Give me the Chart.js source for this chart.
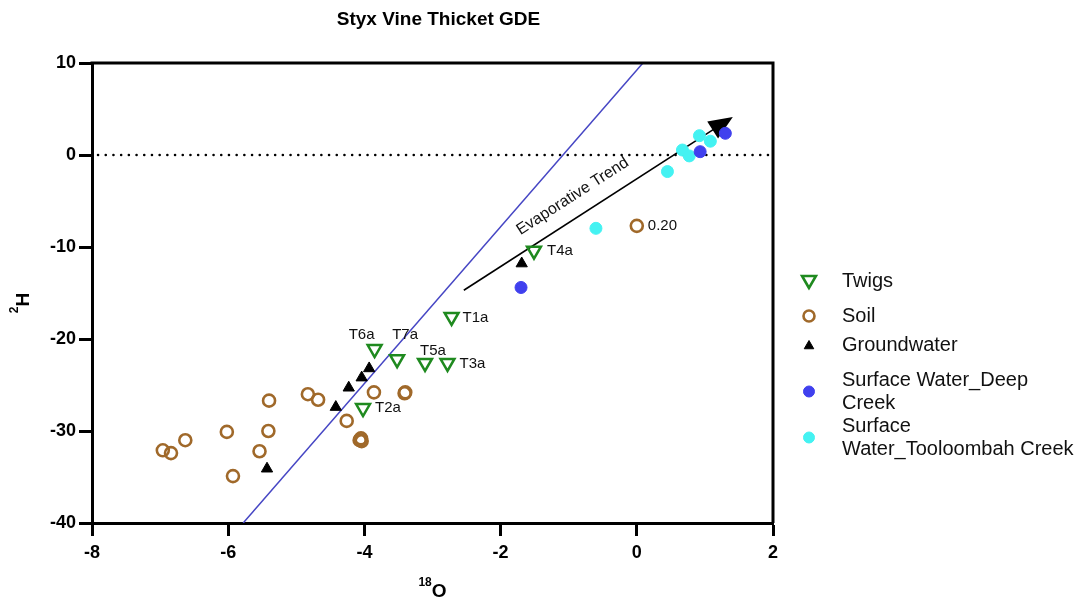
<!DOCTYPE html>
<html>
<head>
<meta charset="utf-8">
<title>Styx Vine Thicket GDE</title>
<script src="https://cdn.jsdelivr.net/npm/chart.js@4.4.1/dist/chart.umd.min.js"></script>
<style>
  html, body { margin: 0; padding: 0; background: #fff; }
  canvas { display: block; }
</style>
</head>
<body>
<canvas id="chart" width="1081" height="601"></canvas>
<script>
// isotope samples: x = 18O, y = 2H
const twigsX = [-2.72, -4.02, -2.78, -1.51, -3.11, -3.85, -3.52];
const twigsY = [-17.6, -27.5, -22.6, -10.4, -22.6, -21.1, -22.2];
const twigLabels = ["T1a", "T2a", "T3a", "T4a", "T5a", "T6a", "T7a"];

const soilX = [-6.96, -6.84, -6.63, -6.02, -5.93, -5.54, -5.41, -5.40, -4.83, -4.68, -4.26, -4.07, -4.05, -4.04, -3.86, -3.41, -3.40, 0.00];
const soilY = [-32.1, -32.4, -31.0, -30.1, -34.9, -32.2, -30.0, -26.7, -26.0, -26.6, -28.9, -31.0, -30.8, -31.1, -25.8, -25.9, -25.8, -7.7];
const soilLabels = ["", "", "", "", "", "", "", "", "", "", "", "", "", "", "", "", "", "0.20"];

const groundwaterX = [-5.43, -4.42, -4.23, -4.04, -3.93, -1.69];
const groundwaterY = [-34.1, -27.4, -25.3, -24.2, -23.2, -11.8];

const deepCreekX = [-1.70, 0.93, 1.30];
const deepCreekY = [-14.4, 0.36, 2.36];

const tooloombahX = [-0.60, 0.45, 0.67, 0.77, 0.92, 1.08];
const tooloombahY = [-7.97, -1.8, 0.54, -0.1, 2.1, 1.5];

const xTicks = [-8, -6, -4, -2, 0, 2];
const yTicks = [-40, -30, -20, -10, 0, 10];

// meteoric water line and evaporative trend arrow (start, tip)
const mwlX = [-5.78, 0.09];
const mwlY = [-40, 10];
const trendX = [-2.54, 1.41];
const trendY = [-14.7, 4.13];
const zeroLineX = [-8, 2];
const zeroLineY = [0, 0];

const pts = (xs, ys) => xs.map((x, i) => ({ x: x, y: ys[i] }));

const FONT = "'Liberation Sans', Arial, sans-serif";
const GREEN = "#1f8a1f";
const BROWN = "#a0692a";
const BLUE = "#4040ee";
const CYAN = "#44f2f2";

// label placement relative to the point: [dx, dy, align]
const labelPos = {
  T1a: [11, 1, "left"], T2a: [12, 0, "left"], T3a: [12, 1, "left"],
  T4a: [13, 0, "left"], T5a: [8, -12, "center"], T6a: [-13, -14, "center"],
  T7a: [8, -24, "center"], "0.20": [11, 0, "left"]
};

const legendItems = [
  { lines: ["Twigs"], style: "triangle", rot: 180, fill: "rgba(0,0,0,0)", stroke: GREEN, r: 8, bw: 2.6 },
  { lines: ["Soil"], style: "circle", fill: "rgba(0,0,0,0)", stroke: BROWN, r: 5.5, bw: 2.6 },
  { lines: ["Groundwater"], style: "triangle", rot: 0, fill: "#000", stroke: "#000", r: 5.5, bw: 1 },
  { lines: ["Surface Water_Deep", "Creek"], style: "circle", fill: BLUE, stroke: BLUE, r: 5.5, bw: 1 },
  { lines: ["Surface", "Water_Tooloombah Creek"], style: "circle", fill: CYAN, stroke: CYAN, r: 5.5, bw: 1 }
];

const decor = {
  id: "decor",
  beforeDatasetsDraw(chart) {
    const { ctx, scales: { x, y } } = chart;
    ctx.save();
    // dotted zero line
    ctx.strokeStyle = "#000";
    ctx.lineWidth = 2.5;
    ctx.lineCap = "round";
    ctx.setLineDash([0.1, 7.6]);
    ctx.beginPath();
    ctx.moveTo(x.getPixelForValue(zeroLineX[0]) + 6, y.getPixelForValue(zeroLineY[0]));
    ctx.lineTo(x.getPixelForValue(zeroLineX[1]), y.getPixelForValue(zeroLineY[1]));
    ctx.stroke();
    ctx.setLineDash([]);

    // evaporative trend arrow
    const x0 = x.getPixelForValue(trendX[0]), y0 = y.getPixelForValue(trendY[0]);
    const x1 = x.getPixelForValue(trendX[1]), y1 = y.getPixelForValue(trendY[1]);
    const ang = Math.atan2(y1 - y0, x1 - x0);
    const headLen = 24, headHalf = 10;
    ctx.lineCap = "butt";
    ctx.lineWidth = 1.6;
    ctx.beginPath();
    ctx.moveTo(x0, y0);
    ctx.lineTo(x1 - Math.cos(ang) * headLen * 0.8, y1 - Math.sin(ang) * headLen * 0.8);
    ctx.stroke();
    ctx.fillStyle = "#000";
    ctx.beginPath();
    ctx.moveTo(x1, y1);
    const bx = x1 - Math.cos(ang) * headLen, by = y1 - Math.sin(ang) * headLen;
    ctx.lineTo(bx + Math.sin(ang) * headHalf, by - Math.cos(ang) * headHalf);
    ctx.lineTo(bx - Math.sin(ang) * headHalf, by + Math.cos(ang) * headHalf);
    ctx.closePath();
    ctx.fill();

    // caption along the arrow
    const t = 0.445;
    const cx = x0 + (x1 - x0) * t + Math.sin(ang) * 20;
    const cy = y0 + (y1 - y0) * t - Math.cos(ang) * 20;
    ctx.translate(cx, cy);
    ctx.rotate(ang);
    ctx.font = "16px " + FONT;
    ctx.fillStyle = "#111";
    ctx.textAlign = "center";
    ctx.textBaseline = "middle";
    ctx.fillText("Evaporative Trend", 0, 0);
    ctx.restore();
  },
  afterDraw(chart) {
    const { ctx, chartArea: a, scales: { x, y } } = chart;
    ctx.save();
    // top and right frame
    ctx.strokeStyle = "#000";
    ctx.lineWidth = 3;
    ctx.beginPath();
    ctx.moveTo(a.left - 1.5, a.top);
    ctx.lineTo(a.right, a.top);
    ctx.lineTo(a.right, a.bottom);
    ctx.stroke();

    // point labels
    ctx.font = "15px " + FONT;
    ctx.fillStyle = "#111";
    ctx.textBaseline = "middle";
    const drawLabels = (xs, ys, labels) => labels.forEach((lab, i) => {
      if (!lab) return;
      const p = labelPos[lab];
      ctx.textAlign = p[2];
      ctx.fillText(lab, x.getPixelForValue(xs[i]) + p[0], y.getPixelForValue(ys[i]) + p[1]);
    });
    drawLabels(twigsX, twigsY, twigLabels);
    drawLabels(soilX, soilY, soilLabels);

    // title
    const midX = (a.left + a.right) / 2;
    ctx.font = "bold 19px " + FONT;
    ctx.fillStyle = "#000";
    ctx.textAlign = "center";
    ctx.fillText("Styx Vine Thicket GDE", midX + 6, 20);

    // x axis title with superscript
    const big = "bold 19px " + FONT, small = "bold 12px " + FONT;
    ctx.textAlign = "left";
    ctx.textBaseline = "alphabetic";
    ctx.font = small;
    const wSup = ctx.measureText("18").width;
    ctx.font = big;
    const wO = ctx.measureText("O").width;
    let sx = midX - (wSup + wO) / 2;
    ctx.font = small;
    ctx.fillText("18", sx, 586);
    ctx.font = big;
    ctx.fillText("O", sx + wSup, 597);

    // y axis title, rotated
    ctx.translate(29, 303);
    ctx.rotate(-Math.PI / 2);
    ctx.font = small;
    const w2 = ctx.measureText("2").width;
    ctx.font = big;
    const wH = ctx.measureText("H").width;
    sx = -(w2 + wH) / 2;
    ctx.font = small;
    ctx.fillText("2", sx, -11);
    ctx.font = big;
    ctx.fillText("H", sx + w2, 0);
    ctx.setTransform(1, 0, 0, 1, 0, 0);

    // legend
    const rows = [281, 316, 345, 380, 426];
    const lineH = 23;
    ctx.font = "20px " + FONT;
    ctx.textBaseline = "middle";
    legendItems.forEach((it, i) => {
      const top = rows[i];
      const my = top + (it.lines.length - 1) * lineH / 2;
      ctx.fillStyle = it.fill;
      ctx.strokeStyle = it.stroke;
      ctx.lineWidth = it.bw;
      Chart.helpers.drawPoint(ctx, { pointStyle: it.style, rotation: it.rot || 0, radius: it.r, borderWidth: it.bw }, 809, my + (it.style === "triangle" ? (it.rot ? -1 : 1) : 0));
      ctx.fillStyle = "#111";
      it.lines.forEach((ln, j) => ctx.fillText(ln, 842, top + j * lineH));
    });
    ctx.restore();
  }
};

const tickFont = { family: FONT, size: 18, weight: "bold" };

new Chart(document.getElementById("chart"), {
  type: "scatter",
  data: {
    datasets: [
      {
        label: "Twigs", data: pts(twigsX, twigsY),
        pointStyle: "triangle", rotation: 180, pointRadius: 8,
        borderColor: GREEN, backgroundColor: "rgba(0,0,0,0)", borderWidth: 2.5
      },
      {
        label: "Soil", data: pts(soilX, soilY),
        pointStyle: "circle", pointRadius: 6,
        borderColor: BROWN, backgroundColor: "rgba(0,0,0,0)", borderWidth: 2.6
      },
      {
        label: "Groundwater", data: pts(groundwaterX, groundwaterY),
        pointStyle: "triangle", pointRadius: 6.5,
        borderColor: "#000", backgroundColor: "#000", borderWidth: 1
      },
      {
        label: "Surface Water_Deep Creek", data: pts(deepCreekX, deepCreekY),
        pointStyle: "circle", pointRadius: 6,
        borderColor: BLUE, backgroundColor: BLUE, borderWidth: 1
      },
      {
        label: "Surface Water_Tooloombah Creek", data: pts(tooloombahX, tooloombahY),
        pointStyle: "circle", pointRadius: 6,
        borderColor: CYAN, backgroundColor: CYAN, borderWidth: 1
      },
      {
        type: "line", label: "MWL", data: pts(mwlX, mwlY), order: 10,
        borderColor: "#4646c4", borderWidth: 1.5, pointRadius: 0, showLine: true
      }
    ]
  },
  options: {
    responsive: false,
    animation: false,
    events: [],
    layout: { padding: { top: 63, right: 308, left: 0, bottom: 0 } },
    plugins: { legend: { display: false }, tooltip: { enabled: false }, title: { display: false } },
    scales: {
      x: {
        type: "linear", min: -8, max: 2,
        afterBuildTicks: s => { s.ticks = xTicks.map(v => ({ value: v })); },
        afterFit: s => { s.height = 78; },
        grid: { drawOnChartArea: false, drawTicks: true, tickLength: 13, tickWidth: 3, tickColor: "#000" },
        border: { display: true, color: "#000", width: 3 },
        ticks: { color: "#000", font: tickFont, padding: 6 }
      },
      y: {
        type: "linear", min: -40, max: 10,
        afterBuildTicks: s => { s.ticks = yTicks.map(v => ({ value: v })); },
        afterFit: s => { s.width = 92; },
        grid: { drawOnChartArea: false, drawTicks: true, tickLength: 13, tickWidth: 3, tickColor: "#000" },
        border: { display: true, color: "#000", width: 3 },
        ticks: { color: "#000", font: tickFont, padding: 3 }
      }
    }
  },
  plugins: [decor]
});
</script>
</body>
</html>
